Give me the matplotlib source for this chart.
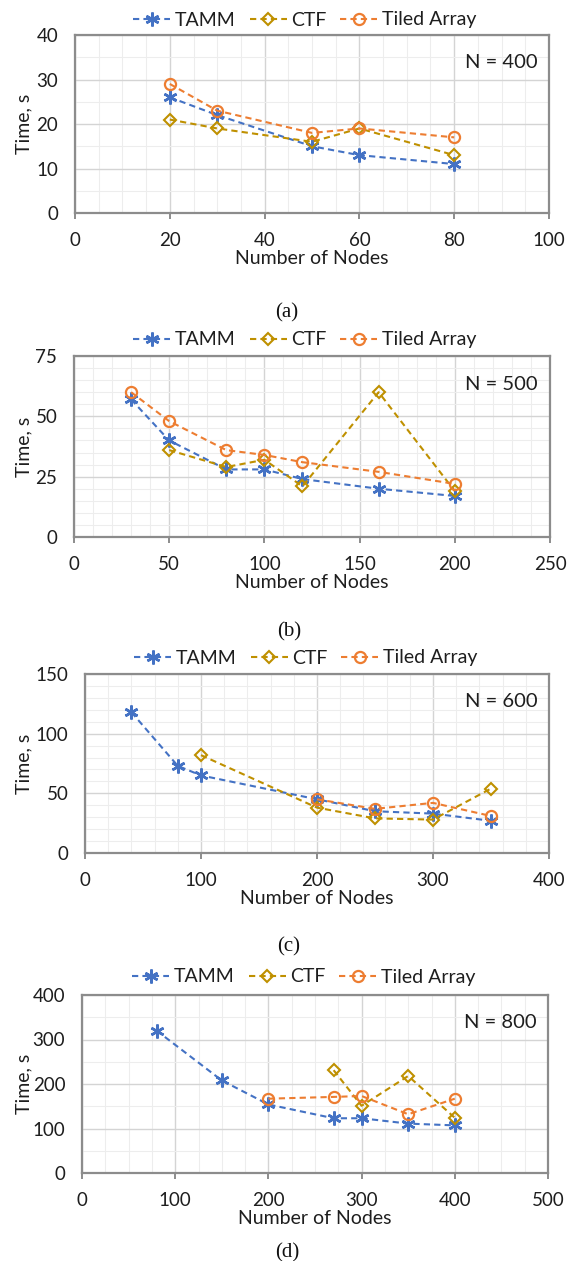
import matplotlib
matplotlib.use("Agg")
import matplotlib.pyplot as plt
from matplotlib.ticker import MultipleLocator

plt.rcParams['font.family'] = ['Lato', 'DejaVu Sans']

# ---------------- data ----------------
series_names = ["TAMM", "CTF", "Tiled Array"]
captions = ["(a)", "(b)", "(c)", "(d)"]
n_labels = ["N = 400", "N = 500", "N = 600", "N = 800"]

# (a) N = 400
a_tamm_x = [20, 30, 50, 60, 80]
a_tamm_y = [26, 22, 15, 13, 11]
a_ctf_x = [20, 30, 50, 60, 80]
a_ctf_y = [21, 19, 16, 19, 13]
a_ta_x = [20, 30, 50, 60, 80]
a_ta_y = [29, 23, 18, 19, 17]

# (b) N = 500
b_tamm_x = [30, 50, 80, 100, 120, 160, 200]
b_tamm_y = [57, 40, 28, 28, 24, 20, 17]
b_ctf_x = [50, 80, 100, 120, 160, 200]
b_ctf_y = [36, 29, 32, 21, 60, 19]
b_ta_x = [30, 50, 80, 100, 120, 160, 200]
b_ta_y = [60, 48, 36, 34, 31, 27, 22]

# (c) N = 600
c_tamm_x = [40, 80, 100, 200, 250, 300, 350]
c_tamm_y = [118, 73, 65, 45, 35, 33, 27]
c_ctf_x = [100, 200, 250, 300, 350]
c_ctf_y = [82, 38, 29, 28, 54]
c_ta_x = [200, 250, 300, 350]
c_ta_y = [45, 37, 42, 31]

# (d) N = 800
d_tamm_x = [80, 150, 200, 270, 300, 350, 400]
d_tamm_y = [320, 208, 154, 123, 123, 111, 107]
d_ctf_x = [270, 300, 350, 400]
d_ctf_y = [231, 151, 218, 124]
d_ta_x = [200, 270, 300, 350, 400]
d_ta_y = [167, 171, 173, 132, 167]

panels = [
    dict(tamm=(a_tamm_x, a_tamm_y), ctf=(a_ctf_x, a_ctf_y), ta=(a_ta_x, a_ta_y),
         xlim=(0, 100), ylim=(0, 40), xmaj=20, xmin=5, ymaj=10, ymin=5),
    dict(tamm=(b_tamm_x, b_tamm_y), ctf=(b_ctf_x, b_ctf_y), ta=(b_ta_x, b_ta_y),
         xlim=(0, 250), ylim=(0, 75), xmaj=50, xmin=10, ymaj=25, ymin=5),
    dict(tamm=(c_tamm_x, c_tamm_y), ctf=(c_ctf_x, c_ctf_y), ta=(c_ta_x, c_ta_y),
         xlim=(0, 400), ylim=(0, 150), xmaj=100, xmin=20, ymaj=50, ymin=10),
    dict(tamm=(d_tamm_x, d_tamm_y), ctf=(d_ctf_x, d_ctf_y), ta=(d_ta_x, d_ta_y),
         xlim=(0, 500), ylim=(0, 400), xmaj=100, xmin=25, ymaj=100, ymin=50),
]

# ---------------- layout (pixels) ----------------
W, H = 567, 1261
boxes = [(75, 549, 35, 213), (74, 550, 356, 537), (85, 549, 674, 853), (82, 548, 995, 1173)]
legend_y = [20, 340, 658, 977]
legend_x = [305, 305, 306, 304]
caption_xy = [(287, 313), (289, 632), (289, 947), (287, 1253)]

c_tamm = "#4472C4"
c_ctf = "#BF9000"
c_ta = "#ED7D31"
frame_col = "#8C8C8C"
txt_col = "#1E1E1E"

fig = plt.figure(figsize=(W / 100, H / 100), dpi=100)
fig.patch.set_facecolor("white")

ls = (0, (3, 2))
for i, (p, (x0, x1, y0, y1)) in enumerate(zip(panels, boxes)):
    ax = fig.add_axes([x0 / W, 1 - y1 / H, (x1 - x0) / W, (y1 - y0) / H])
    h1, = ax.plot(*p['tamm'], color=c_tamm, ls=ls, lw=1.5, marker=(6, 2, 0),
                  ms=10, mew=1.8, label=series_names[0], zorder=3)
    h2, = ax.plot(*p['ctf'], color=c_ctf, ls=ls, lw=1.5, marker='D',
                  ms=6.5, mew=1.5, mfc='none', label=series_names[1], zorder=4)
    h3, = ax.plot(*p['ta'], color=c_ta, ls=ls, lw=1.5, marker='o',
                  ms=8, mew=1.6, mfc='none', label=series_names[2], zorder=5)
    ax.set_xlim(*p['xlim'])
    ax.set_ylim(*p['ylim'])
    ax.xaxis.set_major_locator(MultipleLocator(p['xmaj']))
    ax.xaxis.set_minor_locator(MultipleLocator(p['xmin']))
    ax.yaxis.set_major_locator(MultipleLocator(p['ymaj']))
    ax.yaxis.set_minor_locator(MultipleLocator(p['ymin']))
    ax.grid(which='major', color='#D4D4D4', lw=1.0, zorder=0)
    ax.grid(which='minor', color='#EDEDED', lw=0.8, zorder=0)
    ax.set_axisbelow(True)
    for s in ax.spines.values():
        s.set_color(frame_col)
        s.set_linewidth(1.6)
    ax.tick_params(axis='x', which='major', length=4, width=1.4, color=frame_col,
                   pad=10, labelsize=13.5, labelcolor=txt_col)
    ax.tick_params(axis='x', which='minor', length=0)
    ax.tick_params(axis='y', which='both', length=0, pad=12, labelsize=13.5,
                   labelcolor=txt_col)
    ax.set_xlabel("Number of Nodes", fontsize=14, color=txt_col, va='center')
    ax.xaxis.set_label_coords(0.5, -(259 - 213) / (y1 - y0))
    ax.set_ylabel("Time, s", fontsize=14, color=txt_col, va='center')
    ax.yaxis.set_label_coords((23.5 - x0) / (x1 - x0), 0.5)
    ax.text(0.975, 0.845, n_labels[i], transform=ax.transAxes, ha='right',
            va='center', fontsize=14.5, color=txt_col)
    fig.legend(handles=[h1, h2, h3], loc='center', ncol=3, frameon=False,
               bbox_to_anchor=(legend_x[i] / W, 1 - legend_y[i] / H),
               fontsize=14, handlelength=1.9, handletextpad=0.25,
               columnspacing=0.7, labelcolor=txt_col, borderaxespad=0,
               borderpad=0)
    cx, cy = caption_xy[i]
    fig.text(cx / W, 1 - cy / H, captions[i], ha='center', va='center',
             fontsize=15, family='Liberation Serif', color='#111111')

fig.savefig("out.png", dpi=100)
